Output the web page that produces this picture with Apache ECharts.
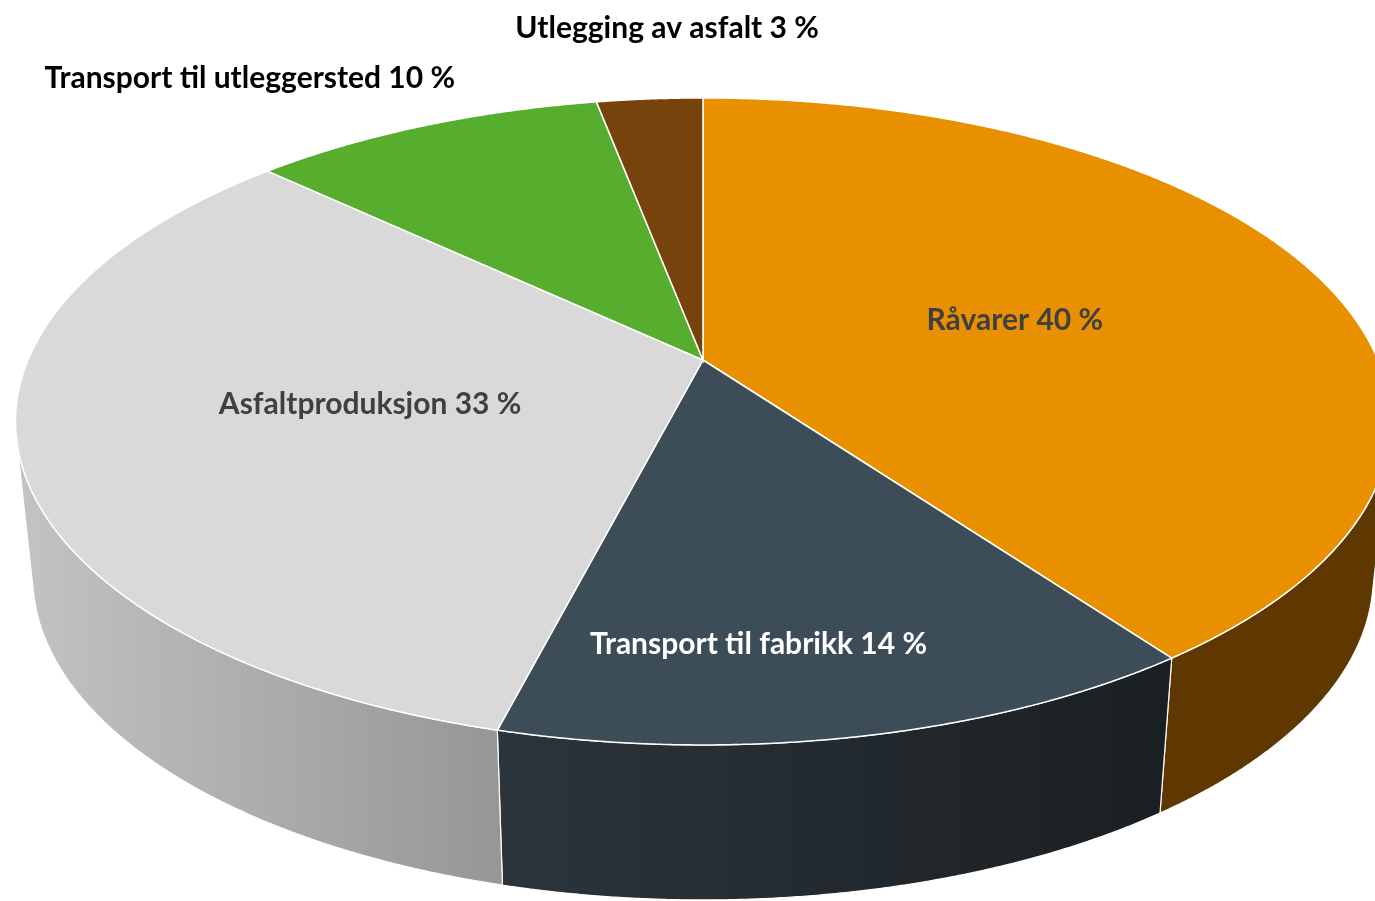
<!DOCTYPE html>
<html>
<head>
<meta charset="utf-8">
<script src="https://cdn.jsdelivr.net/npm/echarts@6/dist/echarts.min.js"></script>
<style>
  html, body { margin: 0; padding: 0; background: #fff; }
  #chart { width: 1375px; height: 901px; }
</style>
</head>
<body>
<div id="chart"></div>
<script>
// data
const categories = ["Råvarer", "Transport til fabrikk", "Asfaltproduksjon", "Transport til utleggersted", "Utlegging av asfalt"];
const values = [40, 14, 33, 10, 3];

// styles / layout
const topColors = ["#E89000", "#3D4D58", "#D9D9D9", "#57AD2E", "#76430C"];
const wallColors = [
  ["#5E3800", "#5E3800"],
  ["#2C353C", "#1A1F22"],
  ["#C3C3C3", "#969696"],
  ["#356B1C", "#2A5516"],
  ["#4A2A07", "#3E2306"]
];
const labelColors = ["#404040", "#FFFFFF", "#404040", "#000000", "#000000"];
const labelR = [0.5, 0.78, 0.5, 1.34, 1.34];
const labelShift = [[0, 7], [-60, 5], [0, 0], [-97, 18], [32, 0]];

// camera (top face in perspective, wall dropped straight down)
const cx = 703, cy = 360;
const sinP = 0.462, cosP = Math.sqrt(1 - sinP * sinP);
const D = 4.67, F = 3152;
const wallDrop = 155, wallShrink = 0.975;

function proj(theta, r) {
  const u = r * Math.sin(theta), v = r * Math.cos(theta);
  const z = D + v * cosP;
  return [cx + F * u / z, cy - F * v * sinP / z];
}
function drop(p) {
  return [cx + (p[0] - cx) * wallShrink, p[1] + wallDrop];
}
// wall faces the viewer where the rim tangent turns against the drop direction
function facing(theta) {
  const e = 1e-4;
  const p0 = proj(theta - e, 1), p1 = proj(theta + e, 1);
  const p = proj(theta, 1), b = drop(p);
  const tx = p1[0] - p0[0], ty = p1[1] - p0[1];
  const dx = b[0] - p[0], dy = b[1] - p[1];
  return tx * dy - ty * dx < 0;
}

const total = values.reduce((a, b) => a + b, 0);
const starts = [];
values.reduce((acc, v, i) => { starts[i] = acc; return acc + v; }, 0);

function arc(a0, a1, r) {
  const n = Math.max(4, Math.ceil((a1 - a0) / 0.004));
  const pts = [];
  for (let i = 0; i <= n; i++) pts.push(proj(a0 + (a1 - a0) * i / n, r));
  return pts;
}
function frontArc(a0, a1) {
  const n = Math.max(4, Math.ceil((a1 - a0) / 0.004));
  const pts = [];
  for (let i = 0; i <= n; i++) {
    const a = a0 + (a1 - a0) * i / n;
    if (facing(a)) pts.push(proj(a, 1));
  }
  return pts;
}

const chartInit = echarts.init(document.getElementById("chart"));

const option = {
  animation: false,
  series: [{
    type: "custom",
    coordinateSystem: "none",
    data: values.map((v, i) => [v, i]),
    renderItem: function (params, api) {
      const i = params.dataIndex;
      const val = api.value(0);
      const a0 = starts[i] / total * Math.PI * 2;
      const a1 = a0 + val / total * Math.PI * 2;
      const topArc = arc(a0, a1, 1);
      const wallTop = frontArc(a0, a1);
      const mid = (a0 + a1) / 2;
      const lp = proj(mid, labelR[i]);
      const children = [];
      if (wallTop.length > 1) {
        children.push({
          type: "polygon",
          z2: 1,
          shape: { points: wallTop.concat(wallTop.map(drop).reverse()) },
          style: {
            fill: new echarts.graphic.LinearGradient(0, 0, 1, 0, [
              { offset: 0, color: wallColors[i][0] },
              { offset: 1, color: wallColors[i][1] }
            ]),
            stroke: "#FFFFFF",
            lineWidth: 1.2
          }
        });
      }
      children.push({
        type: "polygon",
        z2: 10,
        shape: { points: [proj(0, 0)].concat(topArc) },
        style: { fill: topColors[i], stroke: "#FFFFFF", lineWidth: 1.5 }
      });
      children.push({
        type: "text",
        z2: 20,
        x: lp[0] + labelShift[i][0],
        y: lp[1] + labelShift[i][1],
        style: {
          text: categories[i] + " " + val + " %",
          fill: labelColors[i],
          font: "bold 30px Lato, 'Open Sans', sans-serif",
          align: "center",
          verticalAlign: "middle"
        }
      });
      return { type: "group", children: children };
    }
  }]
};

chartInit.setOption(option);
</script>
</body>
</html>
